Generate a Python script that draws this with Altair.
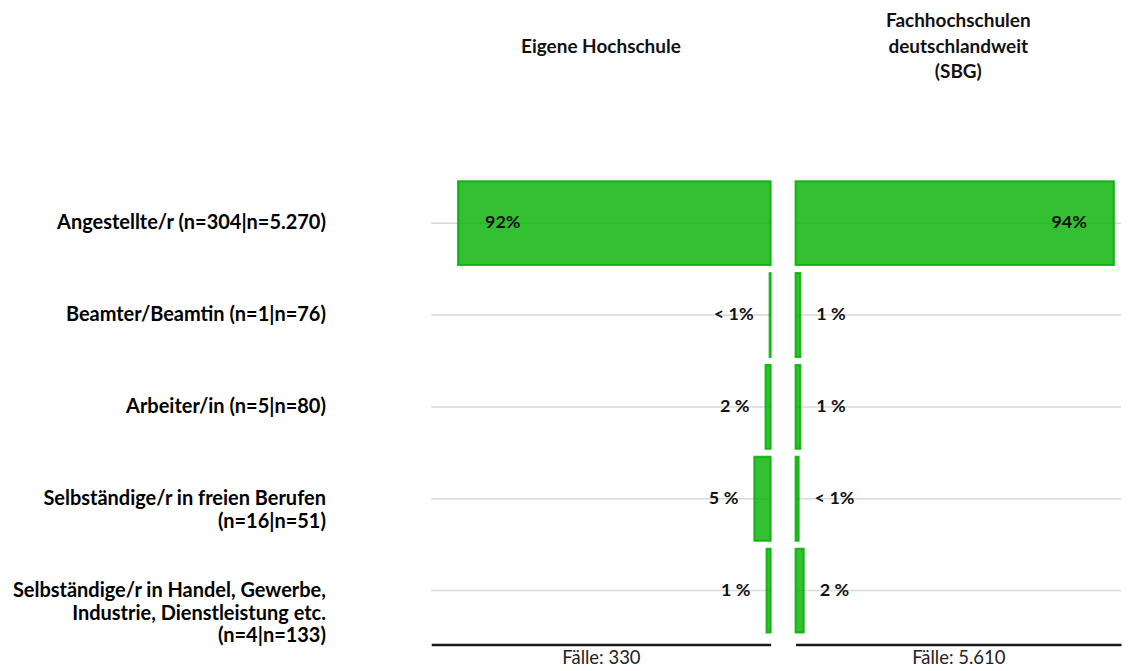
import altair as alt
import pandas as pd

categories = [
    "Angestellte/r (n=304|n=5.270)",
    "Beamter/Beamtin (n=1|n=76)",
    "Arbeiter/in (n=5|n=80)",
    "Selbständige/r in freien Berufen\n(n=16|n=51)",
    "Selbständige/r in Handel, Gewerbe,\nIndustrie, Dienstleistung etc.\n(n=4|n=133)",
]
own_values = [92.1, 0.3, 1.5, 4.8, 1.2]
own_labels = ["92%", "< 1%", "2 %", "5 %", "1 %"]
fh_values = [93.9, 1.4, 1.4, 0.9, 2.4]
fh_labels = ["94%", "1 %", "1 %", "< 1%", "2 %"]
title_own = ["", "Eigene Hochschule", ""]
title_fh = ["Fachhochschulen", "deutschlandweit", "(SBG)"]
cases_own = "Fälle: 330"
cases_fh = "Fälle: 5.610"

FONT = "Lato"
BAR_COLOR = "#00b000"


def panel(values, labels, title, case, width, xmax, left):
    df = pd.DataFrame({"category": categories, "value": values, "label": labels})
    base = alt.Chart(df)
    if left:
        yaxis = alt.Axis(
            labelFont=FONT, labelFontSize=20, labelFontWeight="bold", labelColor="#000",
            labelLineHeight=23, labelPadding=106, labelLimit=500, ticks=False, domain=False,
            grid=False, minExtent=424, maxExtent=424, labelAlign="right", labelBaseline="middle",
            labelExpr="split(datum.label, '\\n')",
        )
    else:
        yaxis = None
    y = alt.Y(
        "category:N", sort=categories, title=None,
        scale=alt.Scale(paddingInner=0.087, paddingOuter=0.13), axis=yaxis,
    )
    x = alt.X(
        "value:Q", title=case,
        scale=alt.Scale(domain=[0, xmax], reverse=left, nice=False, zero=True),
        axis=alt.Axis(
            labels=False, ticks=False, grid=False, domainColor="#1a1a1a", domainWidth=2.5,
            titleFont=FONT, titleFontSize=18.5, titleFontWeight="normal", titleColor="#222",
            titlePadding=4,
        ),
    )
    rules = base.mark_rule(color="#d9d9d9", strokeWidth=1.5).encode(
        y=y, x=alt.value(0), x2=alt.value(width)
    )
    bars = base.mark_bar(
        fill=BAR_COLOR, fillOpacity=0.8, stroke=BAR_COLOR, strokeOpacity=0.85, strokeWidth=2
    ).encode(x=x, y=y)
    outside = base.transform_filter("datum.value < 50").mark_text(
        align="right" if left else "left", dx=-16 if left else 16, baseline="middle",
        font=FONT, fontSize=18, fontWeight="bold", color="#111",
    ).encode(x="value:Q", y=y, text="label:N")
    inside = base.transform_filter("datum.value >= 50").mark_text(
        align="left" if left else "right", dx=27 if left else -27, baseline="middle",
        font=FONT, fontSize=18, fontWeight="bold", color="#111",
    ).encode(x="value:Q", y=y, text="label:N")
    return alt.layer(rules, bars, outside, inside).properties(
        width=width, height=476,
        title=alt.TitleParams(
            text=title, font=FONT, fontSize=19, fontWeight="bold", color="#111",
            lineHeight=26, anchor="middle", baseline="bottom", offset=68,
        ),
    )


left = panel(own_values, own_labels, title_own, cases_own, 340, 100, True)
right = panel(fh_values, fh_labels, title_fh, cases_fh, 326, 96, False)

chart = alt.hconcat(left, right, spacing=23).configure(
    background="white", padding={"top": 3, "left": 0, "right": 0, "bottom": 0}
).configure_view(strokeWidth=0, stroke="transparent")

chart.save("out.html", embed_options={"renderer": "svg", "actions": False})
